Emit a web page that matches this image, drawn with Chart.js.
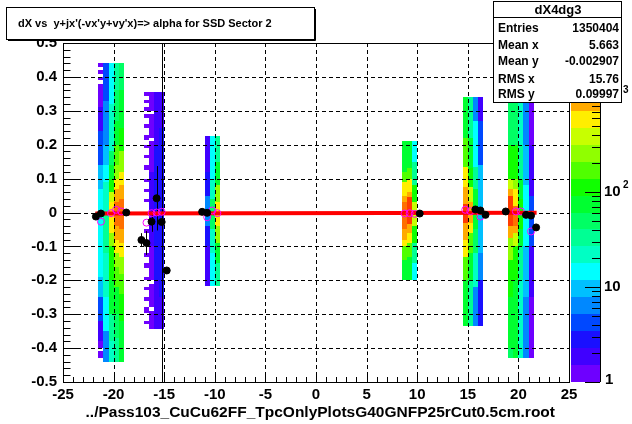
<!DOCTYPE html>
<html>
<head>
<meta charset="utf-8">
<script src="https://cdn.jsdelivr.net/npm/chart.js@4.4.1/dist/chart.umd.min.js"></script>
<style>
  html, body { margin: 0; padding: 0; background: #fff; }
  #c { display: block; }
</style>
</head>
<body>
<canvas id="c" width="632" height="424"></canvas>
<script>
// axis ticks
var xTicks = [-25, -20, -15, -10, -5, 0, 5, 10, 15, 20, 25];
var yTicks = [-0.5, -0.4, -0.3, -0.2, -0.1, 0, 0.1, 0.2, 0.3, 0.4, 0.5];
var zTicks = [1, 10, 100, 1000];
var zMax = 3700;

// 2D histogram: x bin centres (width 0.5) and runs of [yTop, yBottom, entries]
var colX = [-21.25, -20.75, -20.25, -19.75, -19.25,
            -16.75, -16.25, -15.75, -15.25,
            -10.75, -10.25, -9.75,
            8.75, 9.25, 9.75,
            14.75, 15.25, 15.75, 16.25,
            19.25, 19.75, 20.25, 20.75, 21.25];
var colRuns = [
  [[0.44,0.43,1],[0.42,0.41,1],[0.40,0.39,1],[0.38,0.31,1],[0.31,0.24,2],[0.24,0.14,4],[0.14,0.07,10],[0.07,-0.19,14],[-0.19,-0.25,10],[-0.25,-0.32,4],[-0.32,-0.38,2],[-0.38,-0.40,1],[-0.41,-0.43,1]],
  [[0.44,0.33,4],[0.33,0.20,6],[0.20,0.14,10],[0.14,0.09,14],[0.09,0.0,22],[0.0,-0.12,33],[-0.12,-0.25,22],[-0.25,-0.35,14],[-0.35,-0.44,6]],
  [[0.44,0.32,14],[0.32,0.18,22],[0.18,0.14,49],[0.14,0.10,74],[0.10,0.06,110],[0.06,0.03,380],[0.03,-0.06,570],[-0.06,-0.10,250],[-0.10,-0.20,110],[-0.20,-0.30,74],[-0.30,-0.38,33],[-0.38,-0.44,22]],
  [[0.44,0.36,33],[0.36,0.27,49],[0.27,0.20,74],[0.20,0.14,167],[0.14,0.10,250],[0.10,0.07,570],[0.07,0.03,860],[0.03,-0.04,1300],[-0.04,-0.08,860],[-0.08,-0.12,570],[-0.12,-0.16,250],[-0.16,-0.22,167],[-0.22,-0.30,74],[-0.30,-0.37,49],[-0.37,-0.44,33]],
  [[0.44,0.36,49],[0.36,0.25,74],[0.25,0.18,110],[0.18,0.12,250],[0.12,0.08,570],[0.08,0.04,860],[0.04,-0.05,1300],[-0.05,-0.09,860],[-0.09,-0.13,570],[-0.13,-0.18,250],[-0.18,-0.24,167],[-0.24,-0.32,110],[-0.32,-0.44,74]],

  [[0.354,0.345,1],[0.333,0.323,1],[0.31,0.30,1],[0.29,0.28,1],[0.26,0.25,1],[0.23,0.215,1],[0.20,0.19,1],[0.17,0.16,1],[0.14,0.125,1],[0.10,0.09,1],[0.07,0.06,1],[0.04,0.03,1],[-0.05,-0.06,1],[-0.08,-0.09,1],[-0.12,-0.13,1],[-0.15,-0.165,1],[-0.19,-0.20,1],[-0.22,-0.23,1],[-0.25,-0.26,1],[-0.28,-0.295,1],[-0.32,-0.33,1]],
  [[0.354,0.30,1],[0.29,0.22,1],[0.21,0.12,1],[0.12,-0.10,2],[-0.10,-0.20,1],[-0.21,-0.28,1],[-0.29,-0.345,1]],
  [[0.354,0.20,2],[0.20,-0.20,3],[-0.20,-0.345,2]],
  [[0.354,0.25,2],[0.25,-0.25,3],[-0.25,-0.345,2]],

  [[0.225,0.12,2],[0.12,0.05,3],[0.05,-0.04,6],[-0.04,-0.10,3],[-0.10,-0.217,2]],
  [[0.225,0.10,14],[0.10,0.04,22],[0.04,-0.05,49],[-0.05,-0.12,22],[-0.12,-0.217,14]],
  [[0.225,0.15,33],[0.15,0.08,74],[0.08,0.03,250],[0.03,-0.04,570],[-0.04,-0.09,250],[-0.09,-0.15,74],[-0.15,-0.217,33]],

  [[0.21,0.12,74],[0.12,0.09,167],[0.09,0.05,570],[0.05,0.03,860],[0.03,-0.05,1300],[-0.05,-0.08,860],[-0.08,-0.10,570],[-0.10,-0.14,167],[-0.14,-0.20,74]],
  [[0.21,0.13,74],[0.13,0.10,167],[0.10,0.06,570],[0.06,0.045,860],[0.045,-0.035,1950],[-0.035,-0.06,860],[-0.06,-0.09,570],[-0.09,-0.13,167],[-0.13,-0.20,74]],
  [[0.21,0.15,14],[0.15,0.08,33],[0.08,0.03,110],[0.03,-0.04,380],[-0.04,-0.09,110],[-0.09,-0.15,33],[-0.15,-0.20,14]],

  [[0.341,0.22,74],[0.22,0.135,167],[0.135,0.075,570],[0.075,0.026,860],[0.026,-0.03,1950],[-0.03,-0.08,860],[-0.08,-0.13,570],[-0.13,-0.20,167],[-0.20,-0.335,74]],
  [[0.341,0.22,33],[0.22,0.13,74],[0.13,0.075,110],[0.075,0.03,380],[0.03,-0.03,860],[-0.03,-0.06,570],[-0.06,-0.12,167],[-0.12,-0.20,74],[-0.20,-0.335,33]],
  [[0.341,0.27,6],[0.27,0.135,14],[0.135,0.07,33],[0.07,-0.05,74],[-0.05,-0.12,49],[-0.12,-0.22,22],[-0.22,-0.335,6]],
  [[0.341,0.27,2],[0.27,0.14,4],[0.14,-0.12,10],[-0.12,-0.20,6],[-0.20,-0.335,3]],

  [[0.33,0.20,49],[0.20,0.10,110],[0.10,0.07,380],[0.07,0.05,860],[0.05,-0.04,1950],[-0.04,-0.075,860],[-0.075,-0.14,250],[-0.14,-0.25,110],[-0.25,-0.40,74],[-0.40,-0.43,49]],
  [[0.33,0.20,49],[0.20,0.10,110],[0.10,0.07,250],[0.07,0.02,570],[0.02,-0.04,1300],[-0.04,-0.06,860],[-0.06,-0.10,380],[-0.10,-0.20,110],[-0.20,-0.43,74]],
  [[0.33,0.20,22],[0.20,0.10,33],[0.10,0.04,74],[0.04,-0.05,110],[-0.05,-0.10,74],[-0.10,-0.20,33],[-0.20,-0.43,22]],
  [[0.33,0.20,6],[0.20,0.08,10],[0.08,-0.10,14],[-0.10,-0.25,10],[-0.25,-0.43,6]],
  [[0.33,0.20,1],[0.20,0.05,2],[0.05,-0.10,4],[-0.10,-0.25,2],[-0.25,-0.43,1]]
];

// profile (black points with errors)
var profX = [-21.75, -21.25, -18.75, -17.25, -16.75, -16.25, -15.75, -15.25, -14.75, -11.25, -10.75, 10.25, 15.75, 16.25, 16.75, 18.75, 20.75, 21.25, 21.75];
var profY = [-0.012, -0.003, 0.0, -0.081, -0.09, -0.027, 0.042, -0.028, -0.171, 0.002, -0.001, -0.003, 0.009, 0.006, -0.007, 0.003, -0.007, -0.009, -0.044];
var profErr = [0.006, 0.004, 0.004, 0.02, 0.035, 0.03, 0.095, 0.6, 0.006, 0.004, 0.004, 0.005, 0.005, 0.005, 0.006, 0.004, 0.005, 0.006, 0.008];

// second profile (open magenta circles)
var openX = [-21.25, -20.25, -19.75, -19.25, -16.75, -16.25, -15.75, -15.25, -10.75, -10.25, -9.75, 8.75, 9.25, 9.75, 14.75, 15.25, 16.25, 19.75, 20.25, 21.25];
var openY = [-0.027, -0.002, 0.008, 0.003, -0.03, -0.002, 0.0, 0.002, -0.014, 0.006, -0.002, -0.003, -0.002, -0.004, 0.008, 0.004, -0.012, 0.003, 0.003, -0.056];

// straight line fit
var fitX = [-21.8, 21.8];
var fitY = [-0.003, -0.001];

var statLabels = ["Entries", "Mean x", "Mean y", "RMS x", "RMS y"];
var statValues = ["1350404", "5.663", "-0.002907", "15.76", "0.09997"];

var palette = ['#6e00ff','#4000ff','#1a10ff','#0048ff','#0088ff','#00c0ff','#00ffff','#00ffc4','#00ff94','#00ff64',
               '#00ff30','#10ff00','#50ff00','#90ff00','#c8ff00','#ffee00','#ffaa00','#ff7000','#ff3c00','#ff0000'];

var FONT = '"Liberation Sans", Arial, sans-serif';

function levelOf(c) {
  return Math.max(0, Math.min(19, Math.floor(Math.log10(c) / Math.log10(zMax) * 20)));
}

var rootPlugin = {
  id: 'rootLook',
  beforeDatasetsDraw: function (chart) {
    var c = chart.ctx, xs = chart.scales.x, ys = chart.scales.y, a = chart.chartArea;
    c.save();
    // cells
    for (var i = 0; i < colX.length; i++) {
      var x0 = Math.round(xs.getPixelForValue(colX[i] - 0.25));
      var x1 = Math.round(xs.getPixelForValue(colX[i] + 0.25));
      colRuns[i].forEach(function (r) {
        var y0 = Math.round(ys.getPixelForValue(r[0]));
        var y1 = Math.round(ys.getPixelForValue(r[1]));
        c.fillStyle = palette[levelOf(r[2])];
        c.fillRect(x0, y0, x1 - x0, Math.max(1, y1 - y0));
      });
    }
    // dashed grid
    c.strokeStyle = '#000';
    c.lineWidth = 1;
    c.setLineDash([4, 3]);
    c.beginPath();
    xTicks.slice(1, -1).forEach(function (v) {
      var px = Math.round(xs.getPixelForValue(v)) + 0.5;
      c.moveTo(px, a.top); c.lineTo(px, a.bottom);
    });
    yTicks.slice(1, -1).forEach(function (v) {
      var py = Math.round(ys.getPixelForValue(v)) + 0.5;
      c.moveTo(a.left, py); c.lineTo(a.right, py);
    });
    c.stroke();
    c.setLineDash([]);
    // error bars of the profile
    c.beginPath();
    for (var k = 0; k < profX.length; k++) {
      var px = Math.round(xs.getPixelForValue(profX[k])) + 0.5;
      var top = Math.max(a.top, ys.getPixelForValue(profY[k] + profErr[k]));
      var bot = Math.min(a.bottom, ys.getPixelForValue(profY[k] - profErr[k]));
      c.moveTo(px, top); c.lineTo(px, bot);
      var py = Math.round(ys.getPixelForValue(profY[k])) + 0.5;
      c.moveTo(xs.getPixelForValue(profX[k] - 0.25), py);
      c.lineTo(xs.getPixelForValue(profX[k] + 0.25), py);
    }
    c.stroke();
    c.restore();
  },
  afterDraw: function (chart) {
    var c = chart.ctx, xs = chart.scales.x, ys = chart.scales.y, zs = chart.scales.z, a = chart.chartArea;
    c.save();
    c.strokeStyle = '#000';
    c.fillStyle = '#000';
    c.lineWidth = 1;
    // frame
    c.strokeRect(Math.round(a.left) + 0.5, Math.round(a.top) + 0.5, Math.round(a.right - a.left), Math.round(a.bottom - a.top));
    // tick marks
    c.beginPath();
    for (var i = 0; i < yTicks.length; i++) {
      var py = Math.round(ys.getPixelForValue(yTicks[i])) + 0.5;
      c.moveTo(a.left, py); c.lineTo(a.left + 15, py);
      if (i < yTicks.length - 1) {
        for (var m = 1; m < 5; m++) {
          var v = yTicks[i] + (yTicks[i + 1] - yTicks[i]) * m / 5;
          var pm = Math.round(ys.getPixelForValue(v)) + 0.5;
          c.moveTo(a.left, pm); c.lineTo(a.left + 7.5, pm);
        }
      }
    }
    for (var j = 0; j < xTicks.length; j++) {
      var px = Math.round(xs.getPixelForValue(xTicks[j])) + 0.5;
      c.moveTo(px, a.bottom); c.lineTo(px, a.bottom - 10);
      if (j < xTicks.length - 1) {
        for (var n = 1; n < 5; n++) {
          var u = xTicks[j] + (xTicks[j + 1] - xTicks[j]) * n / 5;
          var qx = Math.round(xs.getPixelForValue(u)) + 0.5;
          c.moveTo(qx, a.bottom); c.lineTo(qx, a.bottom - 5);
        }
      }
    }
    c.stroke();

    // colour palette
    var bx0 = 571, bx1 = 600;
    var step = Math.log10(zMax) / 20;
    for (var L = 0; L < 20; L++) {
      var y0 = Math.round(zs.getPixelForValue(Math.pow(10, (L + 1) * step)));
      var y1 = Math.round(zs.getPixelForValue(Math.pow(10, L * step)));
      c.fillStyle = palette[L];
      c.fillRect(bx0, y0, bx1 - bx0, y1 - y0);
    }
    c.beginPath();
    c.moveTo(bx1 + 0.5, a.top); c.lineTo(bx1 + 0.5, a.bottom);
    for (var d = 0; d < zTicks.length; d++) {
      for (var s = 1; s < 10; s++) {
        var zv = zTicks[d] * s;
        if (zv > zMax) break;
        var zp = Math.round(zs.getPixelForValue(zv)) + 0.5;
        var len = s === 1 ? 15 : 8;
        c.moveTo(bx1, zp); c.lineTo(bx1 - len, zp);
      }
    }
    c.stroke();
    c.fillStyle = '#000';
    c.textBaseline = 'middle';
    c.textAlign = 'left';
    zTicks.forEach(function (t, idx) {
      var zp = zs.getPixelForValue(t);
      c.font = 'bold 15px ' + FONT;
      if (idx === 0) { c.fillText('1', 605, zp - 2); return; }
      if (idx === 1) { c.fillText('10', 604, zp); return; }
      c.fillText('10', 604, zp);
      c.font = 'bold 10px ' + FONT;
      c.fillText(String(idx), 623, zp - 7);
    });

    // title box
    c.fillStyle = '#fff';
    c.fillRect(6, 7, 309, 33);
    c.strokeStyle = '#000';
    c.strokeRect(6.5, 7.5, 308, 32);
    c.beginPath();
    c.moveTo(8, 40.5); c.lineTo(315.5, 40.5); c.lineTo(315.5, 9);
    c.stroke();
    c.fillStyle = '#000';
    c.font = 'bold 11px ' + FONT;
    c.textAlign = 'left';
    c.fillText("dX vs  y+jx'(-vx'y+vy'x)=> alpha for SSD Sector 2", 18, 24);

    // stats box
    c.fillStyle = '#fff';
    c.fillRect(493, 1, 128, 101);
    c.strokeRect(493.5, 1.5, 128, 101);
    c.beginPath();
    c.moveTo(493, 17.5); c.lineTo(622, 17.5);
    c.stroke();
    c.fillStyle = '#000';
    c.font = 'bold 13px ' + FONT;
    c.textAlign = 'center';
    c.fillText('dX4dg3', 558, 10);
    c.font = 'bold 12px ' + FONT;
    var rowsY = [29, 46, 62, 80, 95];
    for (var r = 0; r < statLabels.length; r++) {
      c.textAlign = 'left';
      c.fillText(statLabels[r], 498, rowsY[r]);
      c.textAlign = 'right';
      c.fillText(statValues[r], 619, rowsY[r]);
    }

    // x axis title
    c.font = 'bold 15.5px ' + FONT;
    c.textAlign = 'right';
    c.fillText('../Pass103_CuCu62FF_TpcOnlyPlotsG40GNFP25rCut0.5cm.root', 555, 413);
    c.restore();
  }
};

var axisFont = { family: FONT, size: 15, weight: 'bold' };

new Chart(document.getElementById('c'), {
  type: 'scatter',
  data: {
    datasets: [
      {
        type: 'line',
        data: fitX.map(function (x, i) { return { x: x, y: fitY[i] }; }),
        borderColor: '#ff0000',
        borderWidth: 4,
        pointRadius: 0,
        order: 3
      },
      {
        data: openX.map(function (x, i) { return { x: x, y: openY[i] }; }),
        pointStyle: 'circle',
        pointRadius: 3.5,
        backgroundColor: 'rgba(0,0,0,0)',
        borderColor: '#ff00ff',
        borderWidth: 1,
        order: 2
      },
      {
        data: profX.map(function (x, i) { return { x: x, y: profY[i] }; }),
        pointStyle: 'circle',
        pointRadius: 3.5,
        backgroundColor: '#000',
        borderColor: '#000',
        borderWidth: 1,
        order: 1
      }
    ]
  },
  options: {
    responsive: false,
    animation: false,
    devicePixelRatio: 1,
    layout: { padding: { top: 43, left: 0, right: 0, bottom: 0 } },
    plugins: { legend: { display: false }, tooltip: { enabled: false } },
    scales: {
      x: {
        type: 'linear', min: -25, max: 25, position: 'bottom',
        afterFit: function (s) { s.height = 42; },
        afterBuildTicks: function (s) { s.ticks = xTicks.map(function (v) { return { value: v }; }); },
        grid: { display: false, drawTicks: false },
        border: { display: false },
        ticks: { font: axisFont, color: '#000', padding: 4, maxRotation: 0, autoSkip: false,
                 callback: function (v) { return String(v); } }
      },
      y: {
        type: 'linear', min: -0.5, max: 0.5, position: 'left',
        afterFit: function (s) { s.width = 63; },
        afterBuildTicks: function (s) { s.ticks = yTicks.map(function (v) { return { value: v }; }); },
        grid: { display: false, drawTicks: false },
        border: { display: false },
        ticks: { font: axisFont, color: '#000', padding: 6, autoSkip: false,
                 callback: function (v) { return String(v); } }
      },
      z: {
        type: 'logarithmic', min: 1, max: zMax, position: 'right',
        afterFit: function (s) { s.width = 63; },
        grid: { display: false, drawTicks: false },
        border: { display: false },
        ticks: { display: false }
      }
    }
  },
  plugins: [rootPlugin]
});
</script>
</body>
</html>
